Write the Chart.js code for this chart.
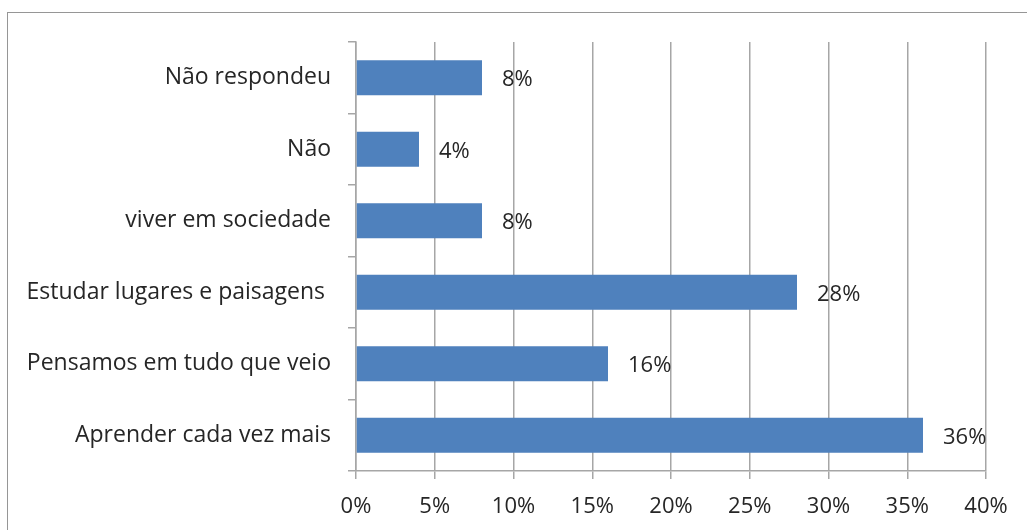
<!DOCTYPE html>
<html>
<head>
<meta charset="utf-8">
<script src="https://cdn.jsdelivr.net/npm/chart.js@4/dist/chart.umd.min.js"></script>
<style>
  html, body { margin: 0; padding: 0; background: #fff; }
  #wrap { position: relative; width: 1027px; height: 530px; overflow: hidden; }
  #frame { position: absolute; left: 7px; top: 12px; width: 1040px; height: 540px; border: 1px solid #969696; box-sizing: border-box; }
  canvas { position: absolute; left: 0; top: 0; }
</style>
</head>
<body>
<div id="wrap">
  <div id="frame"></div>
  <canvas id="grafico" width="1027" height="530"></canvas>
</div>
<script>
// respostas (de cima para baixo)
const categorias = ['Não respondeu', 'Não', 'viver em sociedade', 'Estudar lugares e paisagens ', 'Pensamos em tudo que veio', 'Aprender cada vez mais'];
const percentuais = [8, 4, 8, 28, 16, 36];
const ticksX = [0, 5, 10, 15, 20, 25, 30, 35, 40];

const corTexto = '#262626';
const corGrade = '#a6a6a6';
const fonte = 'Open Sans';

// rótulos de valor ao lado das barras
const rotulos = {
  id: 'rotulos',
  afterDatasetsDraw(chart) {
    const ctx = chart.ctx;
    const meta = chart.getDatasetMeta(0);
    ctx.save();
    ctx.font = '22px "' + fonte + '"';
    ctx.fillStyle = corTexto;
    ctx.textAlign = 'left';
    ctx.textBaseline = 'middle';
    meta.data.forEach((bar, i) => {
      ctx.fillText(percentuais[i] + '%', bar.x + 20, bar.y + 2);
    });
    ctx.restore();
  }
};

const ctx = document.getElementById('grafico').getContext('2d');
new Chart(ctx, {
  type: 'bar',
  data: {
    labels: categorias,
    datasets: [{
      data: percentuais,
      backgroundColor: '#4f81bd',
      categoryPercentage: 1,
      barPercentage: 0.49
    }]
  },
  options: {
    indexAxis: 'y',
    responsive: false,
    animation: false,
    layout: { padding: { left: 0, top: 42, right: 41, bottom: 0 } },
    plugins: {
      legend: { display: false },
      tooltip: { enabled: false }
    },
    scales: {
      x: {
        min: 0,
        max: 40,
        afterBuildTicks: (scale) => { scale.ticks = ticksX.map(v => ({ value: v })); },
        afterFit: (scale) => { scale.height = 59; },
        grid: { color: corGrade, lineWidth: 1.5, tickLength: 8 },
        border: { color: corGrade, width: 1.5 },
        ticks: {
          color: corTexto,
          font: { family: fonte, size: 22 },
          padding: 15,
          maxRotation: 0,
          callback: (v) => v + '%'
        }
      },
      y: {
        afterFit: (scale) => { scale.width = 356; },
        grid: { offset: true, drawOnChartArea: false, color: corGrade, lineWidth: 1.5, tickLength: 8 },
        border: { color: corGrade, width: 1.5 },
        ticks: {
          color: corTexto,
          font: { family: fonte, size: 23 },
          padding: 17
        }
      }
    }
  },
  plugins: [rotulos]
});
</script>
</body>
</html>
